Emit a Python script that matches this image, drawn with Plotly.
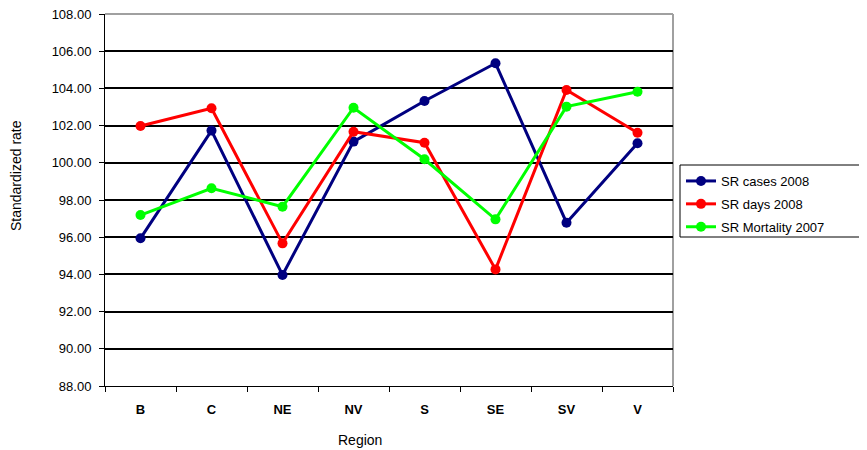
import plotly.graph_objects as go

regions = ["B", "C", "NE", "NV", "S", "SE", "SV", "V"]
sr_cases_2008 = [95.94, 101.73, 93.97, 101.14, 103.32, 105.35, 96.78, 101.05]
sr_days_2008 = [101.98, 102.93, 95.67, 101.67, 101.08, 94.27, 103.91, 101.62]
sr_mortality_2007 = [97.19, 98.63, 97.64, 102.96, 100.19, 96.96, 103.02, 103.82]
y_ticks = [88, 90, 92, 94, 96, 98, 100, 102, 104, 106, 108]

series = [
    ("SR cases 2008", sr_cases_2008, "#000080"),
    ("SR days 2008", sr_days_2008, "#FF0000"),
    ("SR Mortality 2007", sr_mortality_2007, "#00FF00"),
]

fig = go.Figure()
for i, (name, vals, col) in enumerate(series):
    fig.add_trace(go.Scatter(
        x=regions, y=vals, name=name, mode="lines+markers",
        line=dict(color=col, width=3),
        marker=dict(color=col, size=10),
        legendgroup=f"g{i}",
    ))

font = "Liberation Sans, Arial, sans-serif"
OFF = 8  # page body margin
W, H = 867 - OFF, 450 - OFF
# plot area in page coordinates: x 105..673, y 14..386
L, R, T, B = 105 - OFF, 867 - 673, 14 - OFF, 450 - 386
pw, ph = W - L - R, H - T - B

def px(x):
    return (x - OFF - L) / pw

def py(y):
    return (H - B - (y - OFF)) / ph

fig.update_layout(
    width=W, height=H,
    margin=dict(l=L, r=R, t=T, b=B, autoexpand=False),
    paper_bgcolor="white", plot_bgcolor="white",
    font=dict(family=font, size=12, color="black"),
    showlegend=True,
    legend=dict(
        x=px(681), y=py(166), xanchor="left", yanchor="top",
        borderwidth=0, bgcolor="rgba(0,0,0,0)",
        font=dict(size=13), tracegroupgap=3, itemwidth=30,
    ),
    xaxis=dict(
        type="category", range=[-0.5, 7.5], automargin=False,
        showline=True, linecolor="black", linewidth=1,
        ticks="outside", tickson="boundaries", ticklen=5, tickcolor="black",
        showgrid=False,
        tickfont=dict(size=13, family=font, weight="bold"),
        ticklabelstandoff=11, ticklabeloverflow="allow",
    ),
    yaxis=dict(
        range=[88, 108], tickvals=y_ticks, automargin=False,
        ticktext=[f"{v:.2f}" for v in y_ticks],
        showline=True, linecolor="black", linewidth=1,
        ticks="outside", ticklen=5, tickcolor="black",
        showgrid=True, gridcolor="black", gridwidth=1.5,
        zeroline=False,
        tickfont=dict(size=13),
        ticklabelstandoff=5, ticklabeloverflow="allow",
    ),
    annotations=[
        dict(text="Region", xref="paper", yref="paper", x=px(360), y=py(440),
             xanchor="center", yanchor="middle", showarrow=False,
             font=dict(size=14)),
        dict(text="Standardized rate", xref="paper", yref="paper", x=px(16), y=py(175),
             xanchor="center", yanchor="middle", showarrow=False, textangle=-90,
             font=dict(size=14)),
    ],
    shapes=[
        dict(type="line", xref="paper", yref="paper", x0=0, x1=1, y0=1, y1=1,
             line=dict(color="#A0A0A0", width=2), layer="above"),
        dict(type="line", xref="paper", yref="paper", x0=1, x1=1, y0=0, y1=1,
             line=dict(color="#A0A0A0", width=2), layer="below"),
        dict(type="rect", xref="paper", yref="paper",
             x0=px(680), x1=px(860), y0=py(237), y1=py(165),
             line=dict(color="black", width=1), fillcolor="rgba(0,0,0,0)"),
    ],
)

fig.write_html("out.html")
